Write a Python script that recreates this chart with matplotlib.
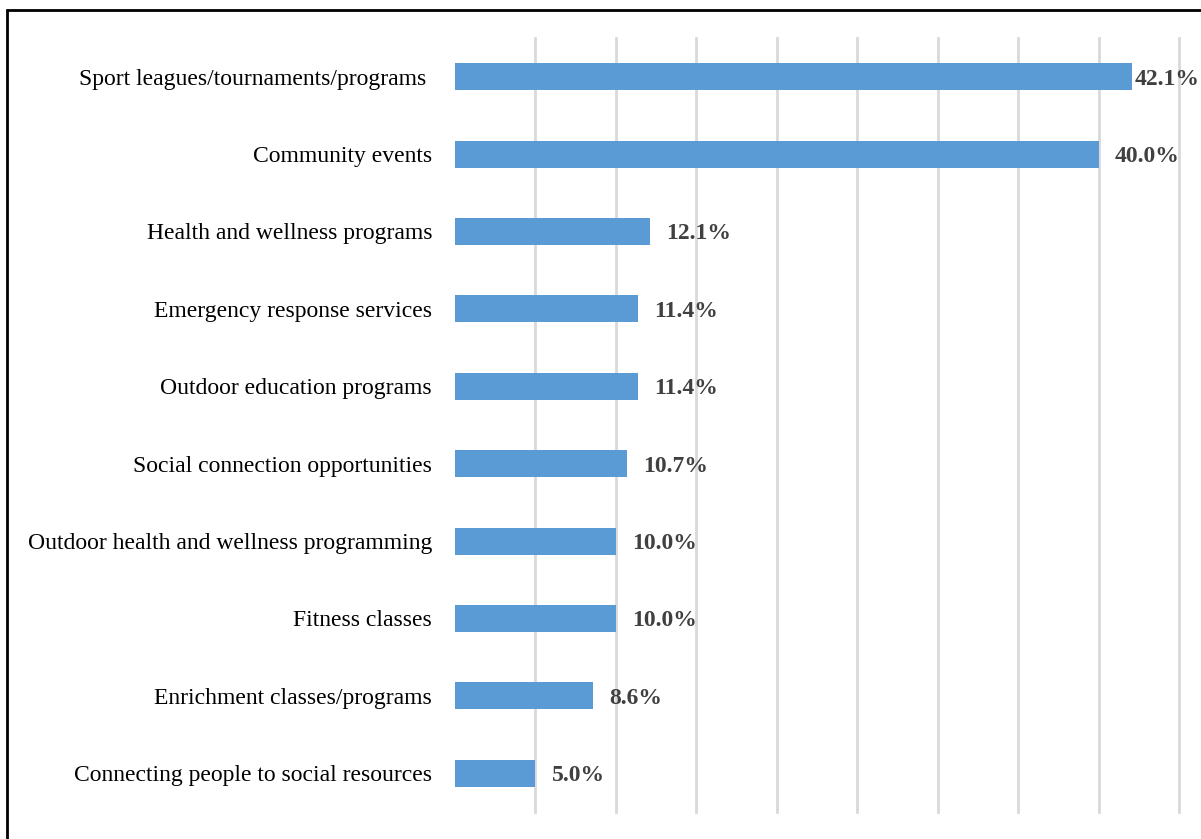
import matplotlib.pyplot as plt
from matplotlib.patches import Rectangle
import numpy as np

# Data
categories = [
    'Sport leagues/tournaments/programs ',
    'Community events',
    'Health and wellness programs',
    'Emergency response services',
    'Outdoor education programs',
    'Social connection opportunities',
    'Outdoor health and wellness programming',
    'Fitness classes',
    'Enrichment classes/programs',
    'Connecting people to social resources',
]
values = [42.1, 40.0, 12.1, 11.4, 11.4, 10.7, 10.0, 10.0, 8.6, 5.0]

plt.rcParams['font.family'] = ['Liberation Serif', 'DejaVu Serif']

fig = plt.figure(figsize=(12.01, 8.39), dpi=100)
W, H = 1201, 839
# axes box in pixels: x 455..1179, y 38..812
ax = fig.add_axes([455 / W, 1 - 812 / H, (1179 - 455) / W, (812 - 38) / H])

y = np.arange(len(categories))
ax.barh(y, values, height=0.35, color='#5b9bd5', zorder=3)
ax.set_ylim(len(categories) - 0.5, -0.5)
ax.set_xlim(0, 45)

ax.set_xticks(np.arange(5, 50, 5))
ax.grid(axis='x', color='#d9d9d9', linewidth=2, zorder=0)
for gl in ax.get_xgridlines():
    gl.set_clip_on(False)
ax.tick_params(axis='x', bottom=False, labelbottom=False)
ax.set_yticks(y)
ax.set_yticklabels(categories, fontsize=17)
ax.tick_params(axis='y', left=False, pad=13)
for s in ax.spines.values():
    s.set_visible(False)

for i, v in enumerate(values):
    off = 0.15 if i == 0 else 1.0
    ax.text(v + off, i + 0.03, f'{v:.1f}%', va='center', ha='left', fontsize=17,
            fontweight='bold', color='#404040', zorder=4)

# outer frame (cut off at right and bottom like the reference)
fig.patches.append(Rectangle((7 / W, -0.1), 1.2, 1 - 10 / H + 0.1,
                             transform=fig.transFigure, fill=False,
                             edgecolor='black', linewidth=2, clip_on=False))

plt.savefig('out.png')
